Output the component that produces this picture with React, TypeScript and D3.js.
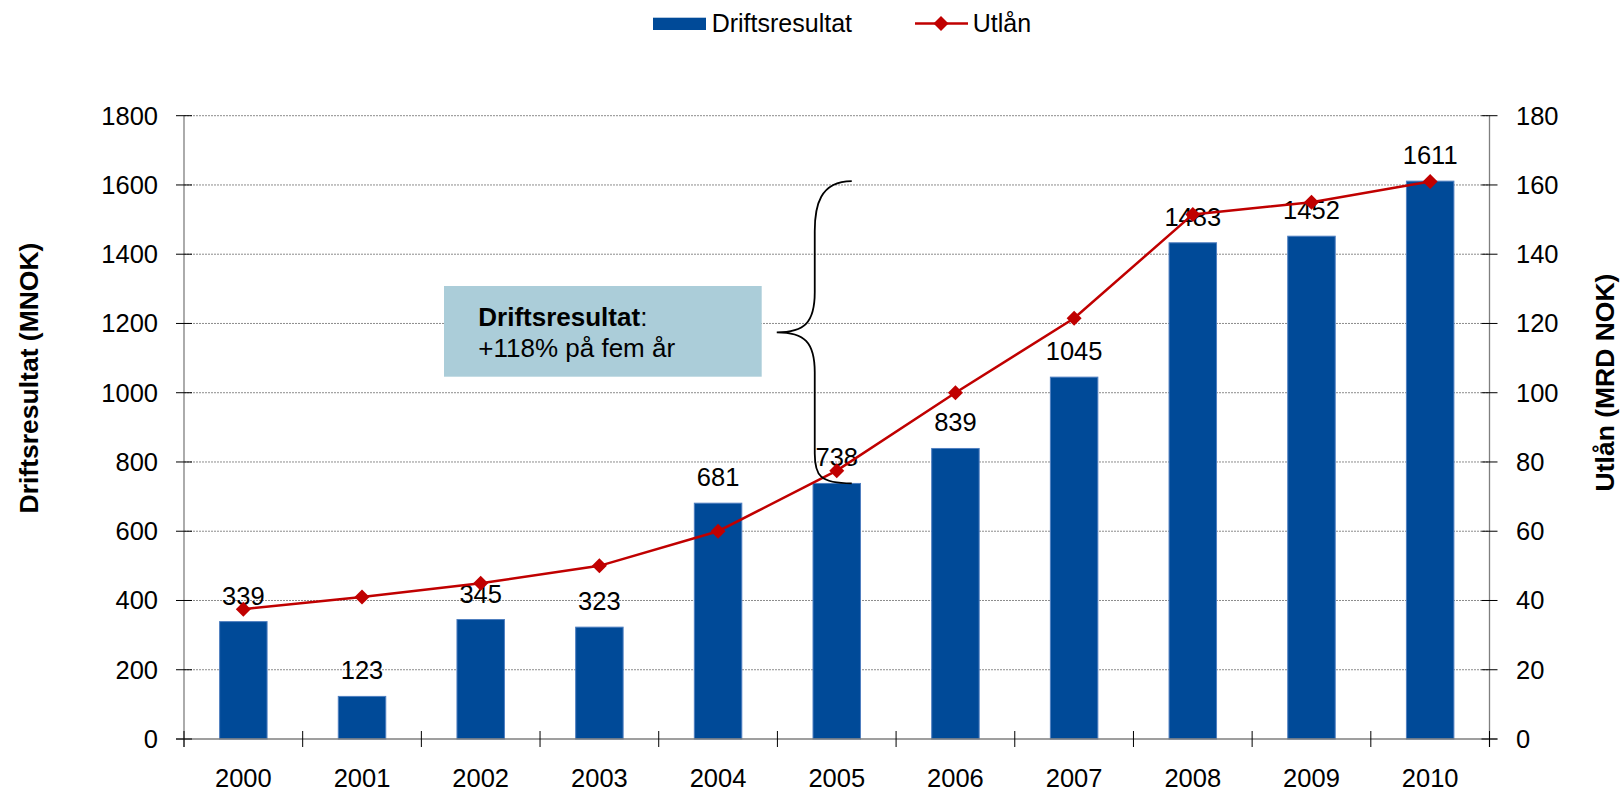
import React from "react";
import * as d3 from "d3";

const years = ["2000", "2001", "2002", "2003", "2004", "2005", "2006", "2007", "2008", "2009", "2010"];
// bar heights as drawn in the picture
const driftsresultat = [339, 123, 345, 323, 681, 738, 839, 1045, 1433, 1452, 1611];
// the printed labels (2008 label says 1483)
const barLabels = ["339", "123", "345", "323", "681", "738", "839", "1045", "1483", "1452", "1611"];
const utlan = [37.5, 41, 45, 50, 60, 77.5, 100, 121.5, 151.5, 155, 161];
const leftTicks = [0, 200, 400, 600, 800, 1000, 1200, 1400, 1600, 1800];
const rightTicks = [0, 20, 40, 60, 80, 100, 120, 140, 160, 180];

const FONT = "'Liberation Sans', Arial, sans-serif";
const BLUE = "#004A98";
const RED = "#C00000";

const W = 1621, H = 792;
const m = { left: 184, right: 1489.5, top: 115.7, bottom: 739 };

const diamond = (cx: number, cy: number, r: number) =>
  `M${cx},${cy - r}L${cx + r},${cy}L${cx},${cy + r}L${cx - r},${cy}Z`;

export default function App() {
  const x = d3.scaleBand().domain(years).range([m.left, m.right]).paddingInner(0.6).paddingOuter(0.3);
  const band = d3.scaleBand().domain(years).range([m.left, m.right]);
  const yL = d3.scaleLinear().domain([0, 1800]).range([m.bottom, m.top]);
  const yR = d3.scaleLinear().domain([0, 180]).range([m.bottom, m.top]);

  const line = d3
    .line<number>()
    .x((d, i) => band(years[i])! + band.bandwidth() / 2)
    .y((d) => yR(d));

  // brace spanning 2005 -> 2010 driftsresultat
  const bTop = yL(driftsresultat[10]);
  const bBot = yL(driftsresultat[5]);
  const bMid = (bTop + bBot) / 2;
  const bx = band("2005")! + band.bandwidth() / 2 + 15;
  const bv = bx - 37;
  const bp = bv - 38;
  const brace =
    `M${bx},${bTop} C${bv + 5},${bTop} ${bv},${bTop + 25} ${bv},${bTop + 50}` +
    ` L${bv},${bMid - 40} C${bv},${bMid - 10} ${bv - 10},${bMid} ${bp},${bMid}` +
    ` C${bv - 10},${bMid} ${bv},${bMid + 10} ${bv},${bMid + 40}` +
    ` L${bv},${bBot - 30} C${bv},${bBot - 8} ${bv + 5},${bBot} ${bx},${bBot}`;

  const boundaries = years.map((y) => band(y)!).concat([m.right]);

  return (
    <svg width={W} height={H} style={{ position: "absolute", left: 0, top: 0, background: "#fff" }} fontFamily={FONT}>
      {/* legend */}
      <rect x={653} y={17.7} width={53} height={12.3} fill={BLUE} />
      <text x={711.7} y={31.7} fontSize={25}>Driftsresultat</text>
      <line x1={915} x2={968} y1={23.5} y2={23.5} stroke={RED} strokeWidth={2.5} />
      <path d={diamond(941, 23.5, 7.5)} fill={RED} />
      <text x={972.7} y={31.7} fontSize={25}>Utlån</text>

      {/* gridlines */}
      {leftTicks.filter((t) => t > 0).map((t) => (
        <line key={t} x1={m.left} x2={m.right} y1={yL(t)} y2={yL(t)} stroke="#8c8c8c" strokeWidth={1} strokeDasharray="2,1" />
      ))}

      {/* bars */}
      {driftsresultat.map((v, i) => (
        <rect key={years[i]} x={x(years[i])} y={yL(v)} width={x.bandwidth()} height={yL(0) - yL(v)} fill={BLUE} stroke="#4f7fc0" strokeWidth={1} />
      ))}

      {/* axes */}
      <line x1={m.left} x2={m.left} y1={m.top} y2={m.bottom + 8} stroke="#7f7f7f" strokeWidth={1.3} />
      <line x1={m.right} x2={m.right} y1={m.top} y2={m.bottom + 8} stroke="#7f7f7f" strokeWidth={1.3} />
      <line x1={m.left - 8} x2={m.right + 8} y1={m.bottom} y2={m.bottom} stroke="#7f7f7f" strokeWidth={1.3} />
      {leftTicks.map((t) => (
        <g key={"l" + t}>
          <line x1={m.left - 8} x2={m.left + 8} y1={yL(t)} y2={yL(t)} stroke="#000" strokeWidth={1} />
          <text x={158} y={yL(t) + 9} fontSize={25.5} textAnchor="end">{t}</text>
        </g>
      ))}
      {rightTicks.map((t) => (
        <g key={"r" + t}>
          <line x1={m.right - 8} x2={m.right + 8} y1={yR(t)} y2={yR(t)} stroke="#000" strokeWidth={1} />
          <text x={1516} y={yR(t) + 9} fontSize={25.5}>{t}</text>
        </g>
      ))}
      {boundaries.map((b, i) => (
        <line key={"x" + i} x1={b} x2={b} y1={m.bottom - 8} y2={m.bottom + 8} stroke="#000" strokeWidth={1} />
      ))}
      {years.map((y) => (
        <text key={"t" + y} x={band(y)! + band.bandwidth() / 2} y={787} fontSize={25.5} textAnchor="middle">{y}</text>
      ))}

      {/* axis titles */}
      <text transform={`translate(38,378) rotate(-90)`} fontSize={26.5} fontWeight="bold" textAnchor="middle">Driftsresultat (MNOK)</text>
      <text transform={`translate(1614,382.5) rotate(-90)`} fontSize={26.5} fontWeight="bold" textAnchor="middle">Utlån (MRD NOK)</text>

      {/* bar labels */}
      {driftsresultat.map((v, i) => (
        <text key={"bl" + i} x={band(years[i])! + band.bandwidth() / 2} y={yL(v) - 17} fontSize={25.5} textAnchor="middle">{barLabels[i]}</text>
      ))}

      {/* utlån line */}
      <path d={line(utlan) || ""} fill="none" stroke={RED} strokeWidth={2.5} />
      {utlan.map((v, i) => (
        <path key={"d" + i} d={diamond(band(years[i])! + band.bandwidth() / 2, yR(v), 7.5)} fill={RED} />
      ))}

      {/* annotation */}
      <rect x={444} y={286} width={317.7} height={90.7} fill="#ABCDD9" />
      <text x={478.3} y={325.7} fontSize={26}>
        <tspan fontWeight="bold">Driftsresultat</tspan>:
      </text>
      <text x={478.3} y={357.3} fontSize={26}>+118% på fem år</text>
      <path d={brace} fill="none" stroke="#000" strokeWidth={1.8} />
    </svg>
  );
}
